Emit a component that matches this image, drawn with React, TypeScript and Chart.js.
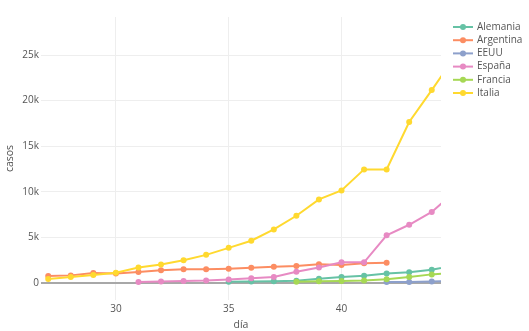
import React, { useEffect, useRef } from "react";
import { Chart, registerables } from "chart.js";

Chart.register(...registerables);

const days = [27, 28, 29, 30, 31, 32, 33, 34, 35, 36, 37, 38, 39, 40, 41, 42, 43, 44, 45];
const alemania = [null, null, null, null, null, null, null, null, 130, 159, 196, 262, 482, 670, 799, 1040, 1176, 1457, 1908];
const argentina = [770, 840, 1100, 1040, 1200, 1390, 1500, 1500, 1580, 1680, 1780, 1870, 2050, 1980, 2160, 2230, null, null, null];
const eeuu = [null, null, null, null, null, null, null, null, null, null, null, null, null, null, null, 100, 124, 158, 221];
const espana = [null, null, null, null, 120, 165, 228, 282, 401, 525, 674, 1231, 1695, 2277, 2277, 5232, 6391, 7798, 9942];
const francia = [null, null, null, null, null, null, null, null, null, null, null, 130, 191, 212, 285, 423, 653, 949, 1126];
const italia = [453, 655, 888, 1128, 1694, 2036, 2502, 3089, 3858, 4636, 5883, 7375, 9172, 10149, 12462, 12462, 17660, 21157, 24747];

const seriesNames = ["Alemania", "Argentina", "EEUU", "España", "Francia", "Italia"];
const seriesValues = [alemania, argentina, eeuu, espana, francia, italia];
const seriesColors = ["#66c2a5", "#fc8d62", "#8da0cb", "#e78ac3", "#a6d854", "#ffd92f"];

const xTicks = [30, 35, 40];
const yTicks = [0, 5000, 10000, 15000, 20000, 25000];
const yTickLabels = ["0", "5k", "10k", "15k", "20k", "25k"];

const FONT = "'Open Sans', 'DejaVu Sans', sans-serif";

const legendPlugin = {
  id: "customLegend",
  afterDraw(chart: any) {
    const ctx = chart.ctx;
    ctx.save();
    chart.data.datasets.forEach((ds: any, i: number) => {
      const y = 27 + i * 13.2;
      ctx.strokeStyle = ds.borderColor;
      ctx.lineWidth = 2;
      ctx.beginPath();
      ctx.moveTo(453, y);
      ctx.lineTo(473, y);
      ctx.stroke();
      ctx.fillStyle = ds.borderColor;
      ctx.beginPath();
      ctx.arc(463, y, 3, 0, Math.PI * 2);
      ctx.fill();
      ctx.fillStyle = "#555";
      ctx.font = `10px ${FONT}`;
      ctx.textBaseline = "middle";
      ctx.textAlign = "left";
      ctx.fillText(ds.label, 477, y);
    });
    ctx.restore();
  },
};

export default function App() {
  const ref = useRef<HTMLCanvasElement | null>(null);
  useEffect(() => {
    if (!ref.current) return;
    const datasets = seriesNames.map((name, i) => ({
      label: name,
      data: days.map((d, j) => ({ x: d, y: seriesValues[i][j] })),
      borderColor: seriesColors[i],
      backgroundColor: seriesColors[i],
      borderWidth: 2,
      pointRadius: 3,
      pointBorderWidth: 0,
      pointBackgroundColor: seriesColors[i],
      tension: 0,
      spanGaps: false,
      order: seriesNames.length - i,
    }));
    const chart = new Chart(ref.current, {
      type: "line",
      data: { datasets },
      plugins: [legendPlugin],
      options: {
        animation: false,
        responsive: false,
        layout: { padding: { top: 17, right: 88, left: 0, bottom: 0 } },
        plugins: { legend: { display: false }, tooltip: { enabled: false } },
        scales: {
          x: {
            type: "linear",
            min: 26.68,
            max: 44.41,
            afterBuildTicks: (s: any) => {
              s.ticks = xTicks.map((v) => ({ value: v }));
            },
            afterFit: (s: any) => {
              s.height = 31;
            },
            grid: { color: "#eeeeee", lineWidth: 1, drawTicks: false },
            border: { display: false },
            ticks: {
              padding: 3,
              color: "#555",
              font: { family: FONT, size: 10 },
              callback: (v: any) => String(v),
            },
            title: {
              display: true,
              text: "día",
              color: "#555",
              font: { family: FONT, size: 10.5 },
              padding: { top: 0, bottom: 0 },
            },
          },
          y: {
            type: "linear",
            min: -1860,
            max: 29170,
            afterBuildTicks: (s: any) => {
              s.ticks = yTicks.map((v) => ({ value: v }));
            },
            afterFit: (s: any) => {
              s.width = 41;
            },
            grid: {
              color: (c: any) => (c.tick && c.tick.value === 0 ? "#a8a8a8" : "#eeeeee"),
              lineWidth: (c: any) => (c.tick && c.tick.value === 0 ? 2 : 1),
              drawTicks: false,
            },
            border: { display: false },
            ticks: {
              padding: 2,
              color: "#555",
              font: { family: FONT, size: 10 },
              callback: (v: any) => {
                const k = yTicks.indexOf(v);
                return k >= 0 ? yTickLabels[k] : "";
              },
            },
            title: {
              display: true,
              text: "casos",
              color: "#555",
              font: { family: FONT, size: 10.5 },
              padding: { top: 4, bottom: 0 },
            },
          },
        },
      },
    });
    return () => chart.destroy();
  }, []);
  return (
    <div style={{ position: "absolute", left: 0, top: 0, width: 529, height: 331, background: "#fff" }}>
      <canvas ref={ref} width={529} height={331} style={{ width: 529, height: 331, display: "block" }} />
    </div>
  );
}
